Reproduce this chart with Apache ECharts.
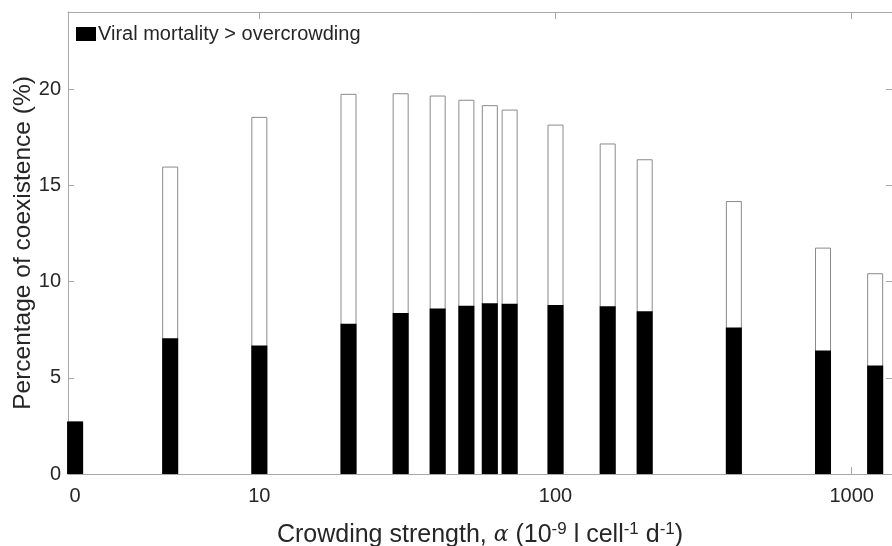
<!DOCTYPE html>
<html>
<head>
<meta charset="utf-8">
<script src="https://cdn.jsdelivr.net/npm/echarts@6/dist/echarts.min.js"></script>
<style>
  html, body { margin: 0; padding: 0; background: #fff; }
  #main { width: 892px; height: 546px; }
</style>
</head>
<body>
<div id="main"></div>
<script>
// crowding strength alpha (10^-9 l cell^-1 d^-1)
var alphas = [0, 5, 10, 20, 30, 40, 50, 60, 70, 100, 150, 200, 400, 800, 1200];
// percentage of coexistence (%), whole bar
var coexistence = [2.73, 15.97, 18.55, 19.75, 19.78, 19.66, 19.44, 19.16, 18.93, 18.15, 17.17, 16.35, 14.18, 11.76, 10.43];
// part of it where viral mortality > overcrowding
var viralWins = [2.73, 7.05, 6.67, 7.80, 8.36, 8.60, 8.74, 8.87, 8.85, 8.78, 8.72, 8.45, 7.61, 6.41, 5.64];
var xTickLabels = ['0', '10', '100', '1000'];
var yTicks = [0, 5, 10, 15, 20];

// x axis is log10, alpha = 0 gets a spot left of 10
var zeroPos = 0.378;
function xpos(a) { return a === 0 ? zeroPos : Math.log10(a); }
var xTickPos = [zeroPos, 1, 2, 3];

var font = "'Liberation Sans', Arial, sans-serif";
var axisCol = '#a8a8a8';
var textCol = '#262626';

var myChart = echarts.init(document.getElementById('main'));

var option = {
  animation: false,
  grid: { left: 68, top: 12, right: 0, bottom: 72, outerBoundsMode: 'none' },
  legend: {
    data: ['Viral mortality > overcrowding'],
    left: 76, top: 24, padding: 0,
    icon: 'rect', itemWidth: 20, itemHeight: 14, itemGap: 4,
    textStyle: { fontFamily: font, fontSize: 20, color: textCol, padding: [0, 0, 0, -3] }
  },
  xAxis: [{
    type: 'value', min: 0.354, max: 3.136, position: 'bottom',
    axisLine: { show: true, onZero: false, lineStyle: { color: axisCol } },
    axisTick: { show: true, inside: true, length: 7, customValues: [1, 2, 3], lineStyle: { color: axisCol } },
    splitLine: { show: false },
    axisLabel: {
      customValues: xTickPos, margin: 12,
      fontFamily: font, fontSize: 20, color: textCol,
      formatter: function (v) {
        for (var i = 0; i < xTickPos.length; i++) {
          if (Math.abs(xTickPos[i] - v) < 1e-6) return xTickLabels[i];
        }
        return '';
      }
    },
    name: 'Crowding strength, {a|α} (10{s|-9} l cell{s|-1} d{s|-1})',
    nameLocation: 'middle', nameGap: 47, nameMoveOverlap: false,
    nameTextStyle: {
      fontFamily: font, fontSize: 25, color: textCol,
      rich: {
        a: { fontFamily: "'DejaVu Serif', serif", fontStyle: 'italic', fontSize: 22, color: textCol },
        s: { fontFamily: font, fontSize: 17, color: textCol, verticalAlign: 'top', padding: [0, 0, 12, 0] }
      }
    }
  }, {
    type: 'value', min: 0.354, max: 3.136, position: 'top',
    axisLine: { show: true, onZero: false, lineStyle: { color: axisCol } },
    axisTick: { show: true, inside: true, length: 7, customValues: [1, 2, 3], lineStyle: { color: axisCol } },
    axisLabel: { show: false },
    splitLine: { show: false }
  }],
  yAxis: [{
    type: 'value', min: 0, max: 24, position: 'left',
    axisLine: { show: true, onZero: false, lineStyle: { color: axisCol } },
    axisTick: { show: true, inside: true, length: 6, customValues: yTicks, lineStyle: { color: axisCol } },
    splitLine: { show: false },
    axisLabel: { customValues: yTicks, margin: 7, fontFamily: font, fontSize: 20, color: textCol },
    name: 'Percentage of coexistence (%)',
    nameLocation: 'middle', nameGap: 32, nameMoveOverlap: false,
    nameTextStyle: { fontFamily: font, fontSize: 24.5, color: textCol }
  }, {
    type: 'value', min: 0, max: 24, position: 'right',
    axisLine: { show: true, onZero: false, lineStyle: { color: axisCol } },
    axisTick: { show: true, inside: true, length: 6, customValues: yTicks, lineStyle: { color: axisCol } },
    axisLabel: { show: false },
    splitLine: { show: false }
  }],
  series: [{
    name: 'Coexistence',
    type: 'bar',
    barWidth: 16,
    barGap: '-100%',
    itemStyle: { color: '#ffffff', borderColor: '#8a8a8a', borderWidth: 1 },
    data: alphas.map(function (a, i) { return [xpos(a), coexistence[i]]; })
  }, {
    name: 'Viral mortality > overcrowding',
    type: 'bar',
    barWidth: 16,
    barGap: '-100%',
    itemStyle: { color: '#000000' },
    data: alphas.map(function (a, i) { return [xpos(a), viralWins[i]]; })
  }]
};

myChart.setOption(option);
</script>
</body>
</html>
